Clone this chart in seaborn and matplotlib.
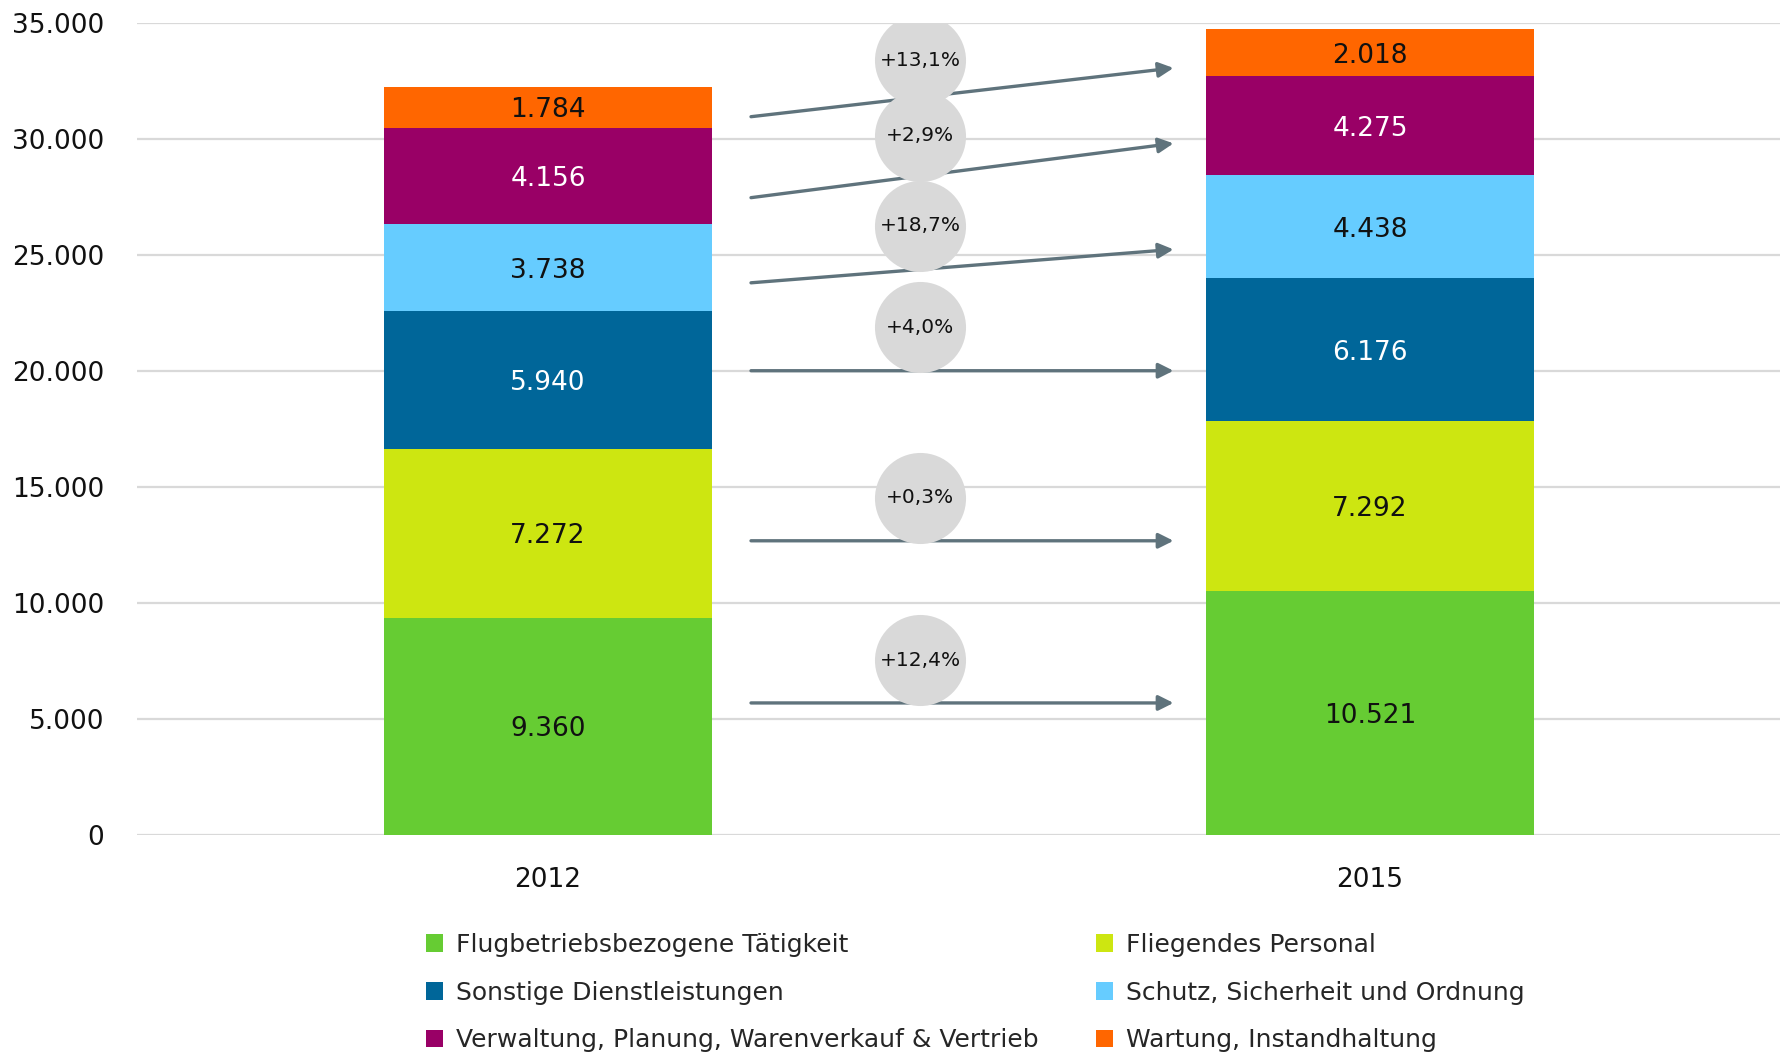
import matplotlib
matplotlib.use('Agg')
import matplotlib.pyplot as plt
import seaborn as sns
import pandas as pd
import numpy as np
from matplotlib.patches import Patch

# Data
years = ['2012', '2015']
categories = ['Flugbetriebsbezogene Tätigkeit', 'Fliegendes Personal',
              'Sonstige Dienstleistungen', 'Schutz, Sicherheit und Ordnung',
              'Verwaltung, Planung, Warenverkauf & Vertrieb', 'Wartung, Instandhaltung']
values_2012 = [9360, 7272, 5940, 3738, 4156, 1784]
values_2015 = [10521, 7292, 6176, 4438, 4275, 2018]
colors = ['#66cc33', '#cde611', '#006699', '#66ccff', '#990066', '#ff6600']
label_colors = ['#111111', '#111111', 'white', '#111111', 'white', '#111111']
yticks = [0, 5000, 10000, 15000, 20000, 25000, 30000, 35000]

# annotation layer (arrows + bubbles), y in data units, bottom to top
arrow_y_start = [5680, 12670, 20000, 23790, 27460, 30950]
arrow_y_end = [5680, 12670, 20000, 25230, 29800, 33050]
bubble_y = [7530, 14530, 21880, 26240, 30130, 33390]

df = pd.DataFrame({'year': years})
v = np.array([values_2012, values_2015])
cum = np.cumsum(v, axis=1)

sns.set_style('white')
plt.rcParams['font.family'] = ['DejaVu Sans']

fig = plt.figure(figsize=(17.81, 10.53), dpi=100)
ax = fig.add_axes([0.0769, 0.2073, 0.9231, 0.7711])

ax.set_axisbelow(True)
ax.yaxis.grid(True, color='#d9d9d9', linewidth=1.6)

# stacked bars: draw cumulative totals from the top layer down
for i in reversed(range(len(categories))):
    d = df.copy()
    d['val'] = cum[:, i]
    sns.barplot(data=d, x='year', y='val', color=colors[i], width=0.4,
                saturation=1, linewidth=0, ax=ax, zorder=2)

for j in range(len(years)):
    for i in range(len(categories)):
        mid = cum[j, i] - v[j, i] / 2
        txt = f'{v[j, i]:,}'.replace(',', '.')
        ax.text(j, mid, txt, ha='center', va='center_baseline', fontsize=19,
                color=label_colors[i], zorder=4)

# arrows and change bubbles
for i in range(len(categories)):
    ax.annotate('', xy=(0.761, arrow_y_end[i]), xytext=(0.247, arrow_y_start[i]),
                arrowprops=dict(arrowstyle='-|>,head_length=0.9,head_width=0.45',
                                color='#5f737c', lw=2.4, shrinkA=0, shrinkB=0),
                zorder=3)
for i in range(len(categories)):
    pct = (values_2015[i] / values_2012[i] - 1) * 100
    lab = '+' + f'{pct:.1f}'.replace('.', ',') + '%'
    ax.scatter([0.453], [bubble_y[i]], s=4300, color='#d9d9d9', zorder=3.5,
               linewidths=0)
    ax.text(0.453, bubble_y[i], lab, ha='center', va='center', fontsize=14.5,
            color='#111111', zorder=5)

ax.set_xlim(-0.5, 1.5)
ax.set_ylim(0, 35000)
ax.set_yticks(yticks)
ax.set_yticklabels([f'{t:,}'.replace(',', '.') for t in yticks])
ax.set_xlabel('')
ax.set_ylabel('')
ax.tick_params(axis='y', length=0, pad=23.5, labelsize=19, labelcolor='#111111')
ax.tick_params(axis='x', length=0, pad=23, labelsize=19, labelcolor='#111111')
for s in ax.spines.values():
    s.set_visible(False)

# legend is filled row by row in the reference
order = [0, 2, 4, 1, 3, 5]
handles = [Patch(facecolor=colors[k], edgecolor='none') for k in order]
labels = [categories[k] for k in order]
fig.legend(handles, labels, loc='upper left', bbox_to_anchor=(0.239, 0.114),
           ncol=2, frameon=False, fontsize=18, handlelength=0.7, handleheight=0.7,
           handletextpad=0.5, columnspacing=2.3, labelspacing=0.95,
           borderpad=0, borderaxespad=0)

fig.savefig('out.png', dpi=100)
